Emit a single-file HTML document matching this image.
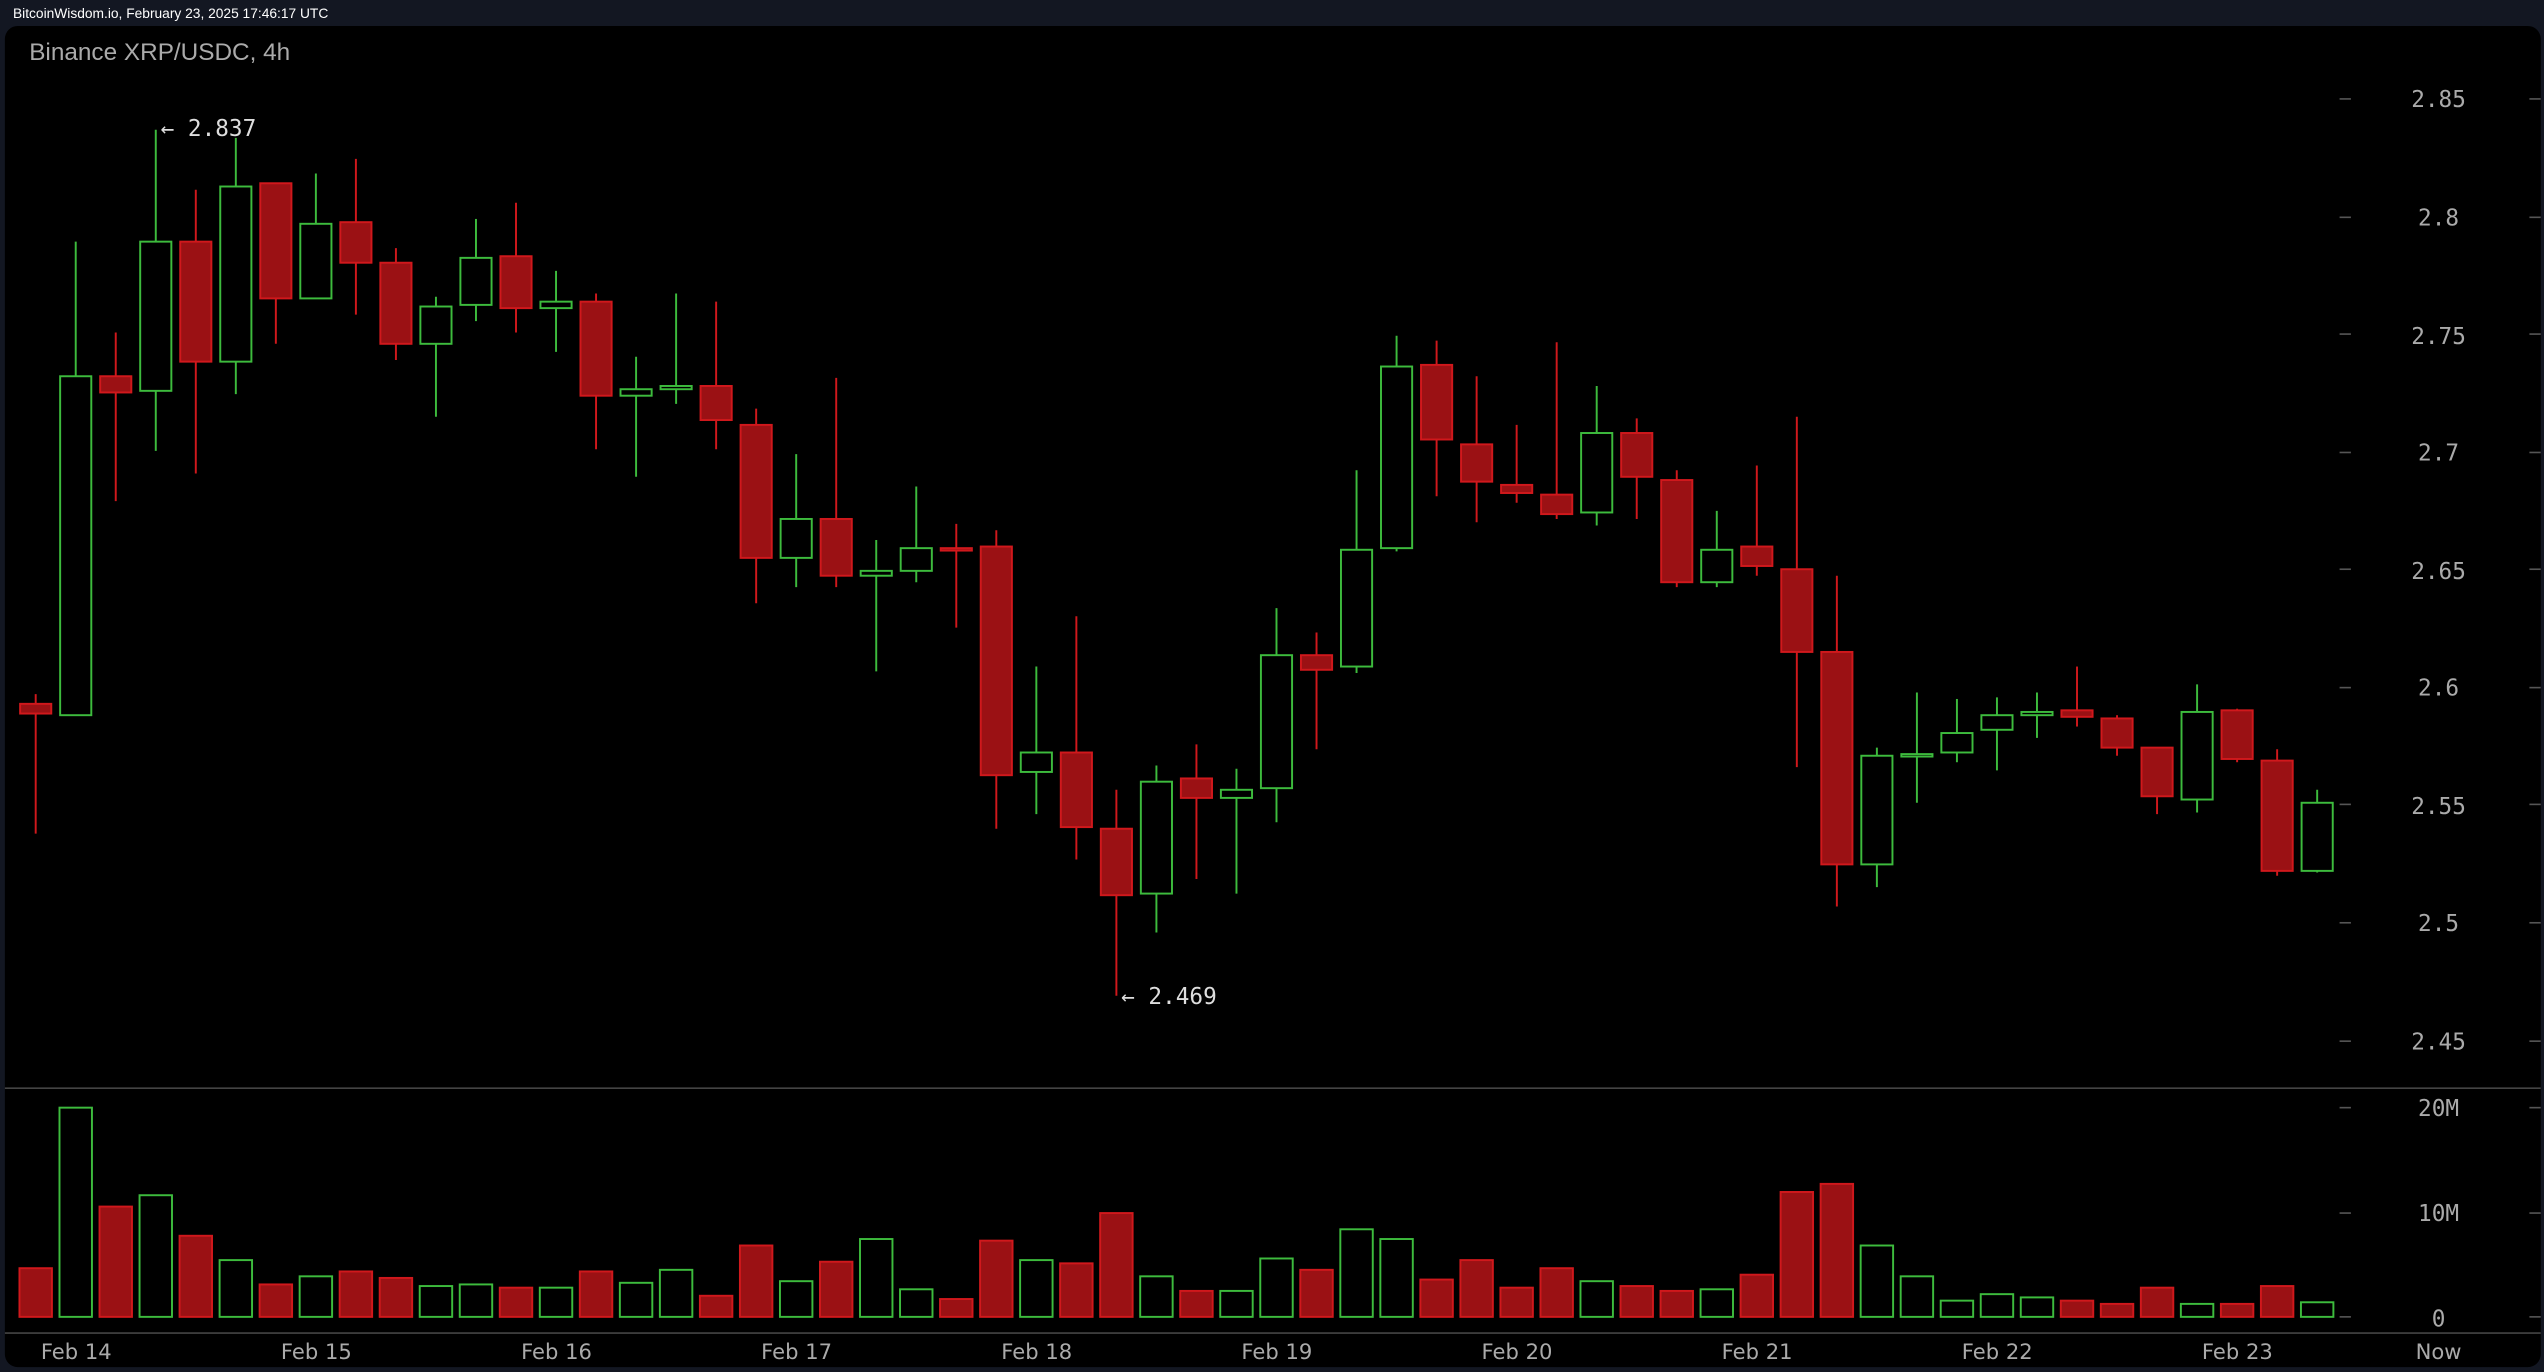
<!DOCTYPE html>
<html><head><meta charset="utf-8"><style>
html,body{margin:0;padding:0;background:#131722;width:2544px;height:1372px;overflow:hidden}
svg{display:block}
</style></head><body>
<svg id="s" width="2544" height="1372" viewBox="0 0 1568 846" preserveAspectRatio="none" xmlns="http://www.w3.org/2000/svg">
<rect x="0" y="0" width="1568" height="846" fill="#131722"/>
<text x="8" y="11" font-family="Liberation Sans, sans-serif" font-size="8.5" fill="#fff">BitcoinWisdom.io, February 23, 2025 17:46:17 UTC</text>
<rect x="3" y="16" width="1563" height="827" rx="8" fill="#000"/>
<text x="18" y="37" font-family="Liberation Sans, sans-serif" font-size="15" fill="#aaa">Binance XRP/USDC, 4h</text>
<line x1="3" y1="671" x2="1566" y2="671" stroke="#444" stroke-width="1"/>
<line x1="3" y1="822" x2="1566" y2="822" stroke="#444" stroke-width="1"/>
<g id="ax" font-family="DejaVu Sans Mono, monospace" font-size="14" fill="#aaa" text-anchor="middle">
<text x="1503" y="66">2.85</text><text x="1503" y="139">2.8</text><text x="1503" y="212">2.75</text>
<text x="1503" y="284">2.7</text><text x="1503" y="357">2.65</text><text x="1503" y="429">2.6</text>
<text x="1503" y="502">2.55</text><text x="1503" y="574">2.5</text><text x="1503" y="647">2.45</text>
<text x="1503" y="688">20M</text><text x="1503" y="753">10M</text><text x="1503" y="818">0</text>
</g>
<g font-family="DejaVu Sans, sans-serif" font-size="13" fill="#aaa" text-anchor="middle">
<text x="47" y="838">Feb 14</text><text x="195" y="838">Feb 15</text><text x="343" y="838">Feb 16</text>
<text x="491" y="838">Feb 17</text><text x="639" y="838">Feb 18</text><text x="787" y="838">Feb 19</text>
<text x="935" y="838">Feb 20</text><text x="1083" y="838">Feb 21</text><text x="1231" y="838">Feb 22</text>
<text x="1379" y="838">Feb 23</text><text x="1503" y="838">Now</text>
</g>
<g font-family="DejaVu Sans Mono, monospace" font-size="14" fill="#ddd">
<text x="99" y="84">← 2.837</text>
<text x="691" y="619">← 2.469</text>
</g>
<g id="c"></g>
</svg>
<script>
var d=[[0,428,434,440,514,0],[1,149,232,441,441,1],[0,205,232,242,309,0],[1,80,149,241,278,1],[0,117,149,223,292,0],[1,85,115,223,243,1],[0,113,113,184,212,0],[1,107,138,184,184,1],[0,98,137,162,194,0],[0,153,162,212,222,0],[1,183,189,212,257,1],[1,135,159,188,198,1],[0,125,158,190,205,0],[1,167,186,190,217,1],[0,181,186,244,277,0],[1,220,240,244,294,1],[1,181,238,240,249,1],[0,186,238,259,277,0],[0,252,262,344,372,0],[1,280,320,344,362,1],[0,233,320,355,362,0],[1,333,352,355,414,1],[1,300,338,352,359,1],[0,323,338,339,387,0],[0,327,337,478,511,0],[1,411,464,476,502,1],[0,380,464,510,530,0],[0,487,511,552,614,0],[1,472,482,551,575,1],[0,459,480,492,542,0],[1,474,487,492,551,1],[1,375,404,486,507,1],[0,390,404,413,462,0],[1,290,339,411,415,1],[1,207,226,338,340,1],[0,210,225,271,306,0],[0,232,274,297,322,0],[0,262,299,304,310,0],[0,211,305,317,320,0],[1,238,267,316,324,1],[0,258,267,294,320,0],[0,290,296,359,362,0],[1,315,339,359,362,1],[0,287,337,349,355,0],[0,257,351,402,473,0],[0,355,402,533,559,0],[1,461,466,533,547,1],[1,427,465,466,495,1],[1,431,452,464,470,1],[1,430,441,450,475,1],[1,427,439,441,455,1],[0,411,438,442,448,0],[0,441,443,461,466,0],[0,461,461,491,502,0],[1,422,439,493,501,1],[0,437,438,468,470,0],[0,462,469,537,540,0],[1,487,495,537,538,1]];
var v=[782,683,744,737,762,777,792,787,784,788,793,792,794,794,784,791,783,799,768,790,778,764,795,801,765,777,779,748,787,796,796,776,783,758,764,789,777,794,782,790,793,796,795,786,735,730,768,787,802,798,800,802,804,794,804,804,793,803];
var h='';
for(var i=0;i<d.length;i++){var c=d[i],x=22+i*24.67,g=c[0]==1,st=g?'#3dbb3d':'#d0181c',f=g?'#000':'#9b1114';
h+='<line x1="'+x+'" y1="'+c[1]+'" x2="'+x+'" y2="'+c[4]+'" stroke="'+st+'" stroke-width="1.2"/>';
var bh=Math.max(c[3]-c[2],1.5);
h+='<rect x="'+(x-9.6)+'" y="'+c[2]+'" width="19.2" height="'+bh+'" fill="'+f+'" stroke="'+st+'" stroke-width="1.2"/>';
h+='<rect x="'+(x-10)+'" y="'+v[i]+'" width="20" height="'+(812-v[i])+'" fill="'+f+'" stroke="'+st+'" stroke-width="1.2"/>';}
var ys=[61,134,206,279,351,424,496,569,642,683,748,812];
for(var j=0;j<ys.length;j++){h+='<line x1="1442" y1="'+ys[j]+'" x2="1449" y2="'+ys[j]+'" stroke="#555" stroke-width="1"/><line x1="1559" y1="'+ys[j]+'" x2="1566" y2="'+ys[j]+'" stroke="#555" stroke-width="1"/>';}
document.getElementById('c').innerHTML=h;
</script>
</body></html>
